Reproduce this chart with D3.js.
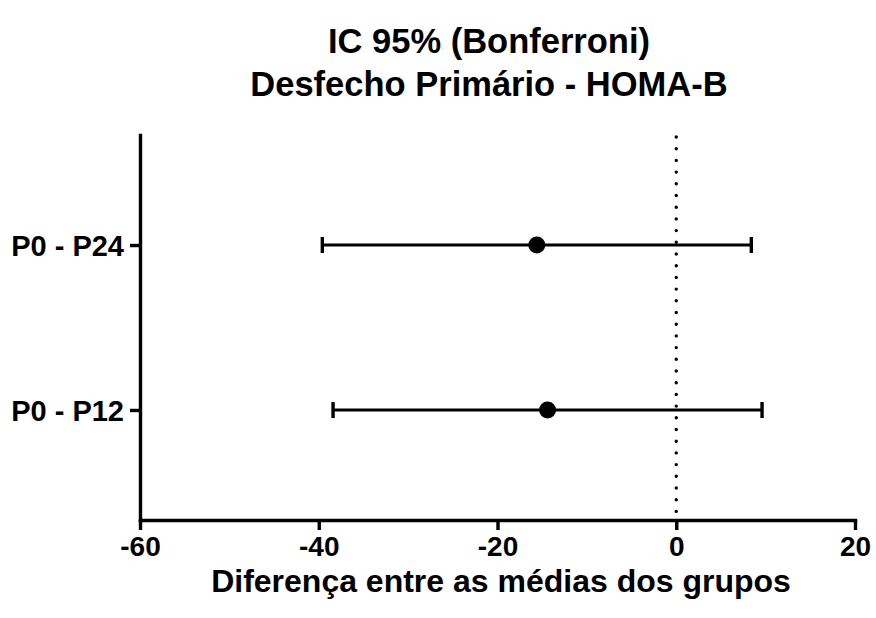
<!DOCTYPE html>
<html>
<head>
<meta charset="utf-8">
<script src="https://cdn.jsdelivr.net/npm/d3@7"></script>
<style>
    body { margin: 0; background: #fff; }
    svg text { font-family: "Liberation Sans", Arial, sans-serif; font-weight: bold; fill: #000; }
</style>
</head>
<body>
<svg id="chart" width="876" height="618"></svg>
<script>
'use strict';

// Data
const groups = ['P0 - P24', 'P0 - P12'];
const means = [-15.6, -14.4];
const lower = [-39.6, -38.4];
const upper = [8.4, 9.6];
const xTicks = [-60, -40, -20, 0, 20];
const titleLines = ['IC 95% (Bonferroni)', 'Desfecho Primário - HOMA-B'];
const xLabel = 'Diferença entre as médias dos grupos';

(function () {

    const svg = d3.select('#chart');

    // Plot box
    const left = 140, right = 855, top = 135, bottom = 520;

    // Scales
    const scX = d3.scaleLinear()
        .domain([-60, 20])
        .range([left, right]);

    const scY = d3.scalePoint()
        .domain(groups.slice().reverse())
        .range([bottom, top])
        .padding(0.667);

    // Title
    svg.append('g')
        .selectAll('text')
        .data(titleLines)
        .enter()
        .append('text')
            .attr('x', 489)
            .attr('y', (d, i) => 53 + i * 43)
            .attr('text-anchor', 'middle')
            .style('font-size', '34.5px')
            .text(d => d);

    // Zero reference line (dotted)
    svg.append('line')
        .attr('x1', scX(0))
        .attr('x2', scX(0))
        .attr('y1', top + 2)
        .attr('y2', bottom)
        .style('stroke', '#000')
        .style('stroke-width', 3.4)
        .style('stroke-linecap', 'round')
        .style('stroke-dasharray', '0 11.7');

    // X axis
    const xAxis = svg.append('g')
        .attr('class', 'x axis')
        .attr('transform', `translate(0, ${bottom})`)
        .call(d3.axisBottom(scX)
            .tickValues(xTicks)
            .tickFormat(d => String(d))
            .tickSize(10)
            .tickSizeOuter(0)
            .tickPadding(6));

    // Y axis
    const yAxis = svg.append('g')
        .attr('class', 'y axis')
        .attr('transform', `translate(${left}, 0)`)
        .call(d3.axisLeft(scY).tickSize(10).tickSizeOuter(0).tickPadding(6));

    svg.selectAll('.axis .domain')
        .style('stroke', '#000')
        .style('stroke-width', 3.4)
        .style('stroke-linecap', 'square');
    svg.selectAll('.axis .tick line')
        .style('stroke', '#000')
        .style('stroke-width', 3.4);
    xAxis.selectAll('.tick text')
        .style('font-size', '28px')
        .attr('dy', '0.72em');
    yAxis.selectAll('.tick text')
        .style('font-size', '29px')
        .attr('dy', '0.36em');

    // X label
    svg.append('text')
        .attr('x', 501)
        .attr('y', 592)
        .attr('text-anchor', 'middle')
        .style('font-size', '32px')
        .text(xLabel);

    // Error bars
    const rows = groups.map((g, i) => ({g: g, mean: means[i], lo: lower[i], hi: upper[i]}));

    const bars = svg.append('g')
        .selectAll('.ci')
        .data(rows)
        .enter()
        .append('g')
            .attr('class', 'ci');

    bars.append('line')
        .attr('x1', d => scX(d.lo))
        .attr('x2', d => scX(d.hi))
        .attr('y1', d => scY(d.g))
        .attr('y2', d => scY(d.g))
        .style('stroke', '#000')
        .style('stroke-width', 3.2);

    bars.selectAll('.cap')
        .data(d => [d.lo, d.hi].map(v => ({v: v, g: d.g})))
        .enter()
        .append('line')
            .attr('class', 'cap')
            .attr('x1', d => scX(d.v))
            .attr('x2', d => scX(d.v))
            .attr('y1', d => scY(d.g) - 8)
            .attr('y2', d => scY(d.g) + 8)
            .style('stroke', '#000')
            .style('stroke-width', 3.4);

    bars.append('circle')
        .attr('cx', d => scX(d.mean))
        .attr('cy', d => scY(d.g))
        .attr('r', 8.5)
        .style('fill', '#000');

})();
</script>
</body>
</html>
